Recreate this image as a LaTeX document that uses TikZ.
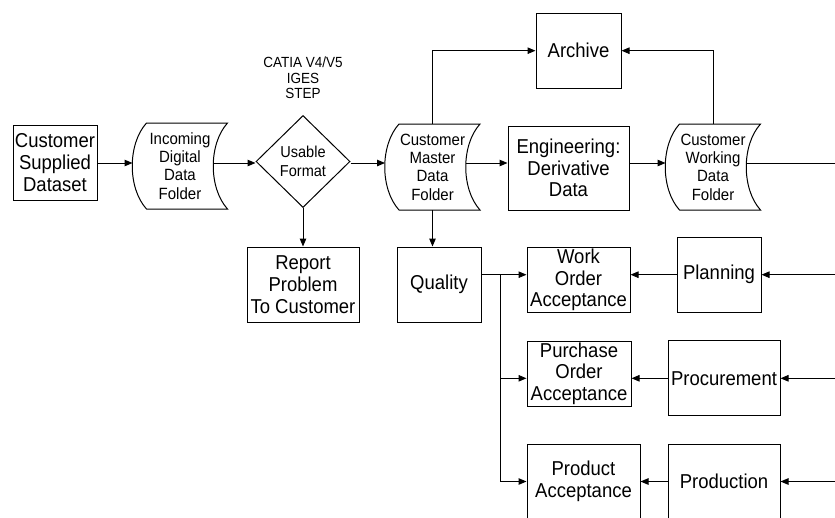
\documentclass[tikz,border=0pt]{standalone}
\usepackage{fontspec}
\setmainfont{Liberation Sans}[FakeStretch=0.92]
\usetikzlibrary{shapes.geometric,arrows.meta,calc}
\begin{document}
\begin{tikzpicture}[x=1pt,y=-1pt, line width=1pt,
  box/.style={draw, rectangle, inner sep=0pt, align=center,
    font=\fontsize{20.1}{21.7}\selectfont},
  folder/.style={rectangle, inner sep=0pt, align=center,
    minimum width=94, minimum height=85,
    font=\fontsize{16.3}{18.3}\selectfont},
  decision/.style={diamond, draw, inner sep=0pt, align=center,
    minimum width=94, minimum height=92,
    font=\fontsize{15.8}{19.5}\selectfont},
  note/.style={align=center, inner sep=0pt,
    font=\fontsize{14.7}{15.5}\selectfont},
  arr/.style={-{Triangle[length=8pt,width=6.5pt]}}
]
\useasboundingbox (0,0) rectangle (835,517);

% rows used by the horizontal connectors
\coordinate (row) at (0,163);
\coordinate (edge) at (835,0);

% main data path
\node[box, minimum width=84, minimum height=75] (cs) at (55,162.5) {Customer\\Supplied\\Dataset};
\node[folder] (inc) at (180,166) {Incoming\\Digital\\Data\\Folder};
\node[decision] (dia) at (303,161.5) {Usable\\Format};
\node[note] (fmt) at (303,78) {CATIA V4/V5\\IGES\\STEP};
\node[box, minimum width=112, minimum height=75] (rep) at (303,284.5) {Report\\Problem\\To Customer};
\node[folder] (master) at (432.5,167) {Customer\\Master\\Data\\Folder};
\node[box, minimum width=121, minimum height=84] (eng) at (568.5,168) {Engineering:\\Derivative\\Data};
\node[box, minimum width=85, minimum height=75] (arch) at (578.5,50.7) {Archive};
\node[folder] (work) at (713,167) {Customer\\Working\\Data\\Folder};

% lower section
\node[box, minimum width=84, minimum height=75] (qual) at (439,284.5) {Quality};
\node[box, minimum width=103, minimum height=65] (woa) at (578.5,279.8) {Work\\Order\\Acceptance};
\node[box, minimum width=84, minimum height=75] (plan) at (719,274.7) {Planning};
\node[box, minimum width=104, minimum height=65] (poa) at (579,373.5) {Purchase\\Order\\Acceptance};
\node[box, minimum width=112, minimum height=75] (proc) at (724,378.3) {Procurement};
\node[box, minimum width=113, minimum height=75] (pa) at (583.5,481.5) {Product\\Acceptance};
\node[box, minimum width=112, minimum height=75] (prod) at (724,481.5) {Production};

% stored-data outlines: convex left side, concave right side
\foreach \n in {inc,master,work}{
  \draw ($(\n.north west)+(14,0)$) -- (\n.north east)
    .. controls ($(\n.north east)+(-19,21)$) and ($(\n.south east)+(-19,-21)$) .. (\n.south east)
    -- ($(\n.south west)+(14,0)$)
    .. controls ($(\n.south west)+(-5,-21)$) and ($(\n.north west)+(-5,21)$) .. cycle;
  \coordinate (\n R) at ($(\n.east)+(-14,0)$);
}

% connectors along the main row
\draw[arr] (cs.east |- row) -- (inc.west |- row);
\draw[arr] (incR |- row) -- (dia.west |- row);
\draw[arr] (dia.east |- row) -- (master.west |- row);
\draw[arr] (masterR |- row) -- (eng.west |- row);
\draw[arr] (eng.east |- row) -- (work.west |- row);
\draw (workR |- row) -- (edge |- row);

% branches off the main row
\draw[arr] (dia.south) -- (rep.north);
\draw[arr] (master.south) -- (master.south |- qual.north);
\draw[arr] (master.north) |- (arch.west);
\draw[arr] (work.north) |- (arch.east);

% acceptance feeds
\coordinate (br) at (500.7,0);
\draw[arr] (qual.east |- plan) -- (woa.west |- plan);
\draw[arr] (br |- plan) |- (pa.west |- prod);
\draw[arr] (br |- proc) -- (poa.west |- proc);
\draw[arr] (plan.west) -- (plan.west -| woa.east);
\draw[arr] (proc.west) -- (proc.west -| poa.east);
\draw[arr] (prod.west) -- (prod.west -| pa.east);
\draw[arr] (edge |- plan) -- (plan.east);
\draw[arr] (edge |- proc) -- (proc.east);
\draw[arr] (edge |- prod) -- (prod.east);
\end{tikzpicture}
\end{document}
